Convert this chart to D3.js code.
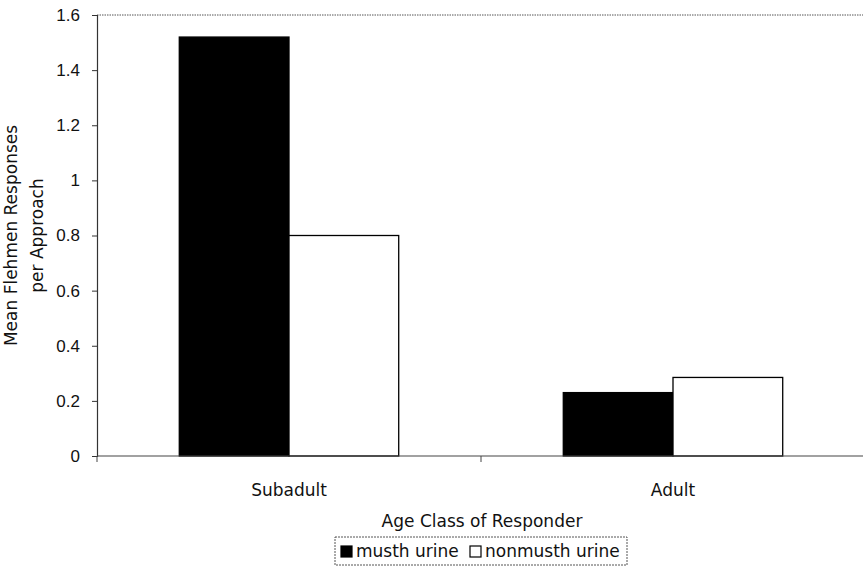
<!DOCTYPE html>
<html>
<head>
<meta charset="utf-8">
<script src="https://cdn.jsdelivr.net/npm/d3@7"></script>
<style>
  body { margin: 0; background: #fff; }
  svg { display: block; font-family: "DejaVu Sans", Verdana, sans-serif; }
</style>
</head>
<body>
<div id="chart"></div>
<script>
// Flehmen responses by age class, musth vs nonmusth urine
const categories = ['Subadult', 'Adult'];
const seriesNames = ['musth urine', 'nonmusth urine'];
const musth = [1.52, 0.23];
const nonmusth = [0.80, 0.285];
const yTicks = [0, 0.2, 0.4, 0.6, 0.8, 1, 1.2, 1.4, 1.6];

const width = 863, height = 567;
const margin = { top: 15, right: -2, bottom: 111, left: 97 };
const W = width - margin.left - margin.right;
const H = height - margin.top - margin.bottom;
const fs = '17px';

const svg = d3.select('#chart').append('svg')
  .attr('width', width).attr('height', height);

const g = svg.append('g').attr('transform', `translate(${margin.left},${margin.top})`);

const x = d3.scaleBand().domain(categories).range([0, W]);
const xs = d3.scaleBand().domain(seriesNames).range([0, x.bandwidth()]).paddingInner(0).paddingOuter(0.75);
const y = d3.scaleLinear().domain([0, 1.6]).range([H, 0]);

const rows = categories.map((c, i) => ({ cat: c, vals: [musth[i], nonmusth[i]] }));
const fills = ['#000', '#fff'];

// plot frame (dotted top / right)
g.append('line').attr('x1', 0).attr('x2', W).attr('y1', 0).attr('y2', 0)
  .attr('stroke', '#555').attr('stroke-width', 1).attr('stroke-dasharray', '1.5,1');
g.append('line').attr('x1', W).attr('x2', W).attr('y1', 0).attr('y2', H)
  .attr('stroke', '#555').attr('stroke-dasharray', '1.5,1');

// bars
g.selectAll('.grp').data(rows).join('g')
  .attr('class', 'grp')
  .attr('transform', d => `translate(${x(d.cat)},0)`)
  .selectAll('rect').data(d => d.vals.map((v, i) => ({ key: seriesNames[i], v, i })))
  .join('rect')
  .attr('x', d => xs(d.key)).attr('y', d => y(d.v))
  .attr('width', xs.bandwidth()).attr('height', d => H - y(d.v))
  .attr('fill', d => fills[d.i]).attr('stroke', '#000').attr('stroke-width', 1.3);

// y axis
const yAx = g.append('g')
  .call(d3.axisLeft(y).tickValues(yTicks).tickSize(5).tickPadding(12).tickFormat(d => d3.format('')(d)));
yAx.select('.domain').attr('stroke', '#333').attr('stroke-width', 1.2);
yAx.selectAll('line').attr('stroke', '#333');
yAx.selectAll('text').attr('font-size', fs).attr('fill', '#111');

// x axis
const xAx = g.append('g').attr('transform', `translate(0,${H})`);
xAx.append('line').attr('x1', 0).attr('x2', W).attr('stroke', '#444').attr('stroke-width', 1.2);
const bounds = [0, x.step(), W];
xAx.selectAll('.tk').data(bounds).join('line').attr('class', 'tk')
  .attr('x1', d => d).attr('x2', d => d).attr('y1', 0).attr('y2', 6)
  .attr('stroke', '#444');
xAx.selectAll('.lbl').data(categories).join('text').attr('class', 'lbl')
  .attr('x', d => x(d) + x.bandwidth() / 2).attr('y', 40)
  .attr('text-anchor', 'middle').attr('font-size', fs).attr('fill', '#111')
  .text(d => d);

// axis titles
g.append('text').attr('x', W / 2 + 1).attr('y', H + 71)
  .attr('text-anchor', 'middle').attr('font-size', fs).attr('fill', '#111')
  .text('Age Class of Responder');

const yt = svg.append('text').attr('transform', `translate(0,${margin.top + H / 2}) rotate(-90)`)
  .attr('text-anchor', 'middle').attr('font-size', fs).attr('fill', '#111');
yt.append('tspan').attr('x', 0).attr('y', 17).text('Mean Flehmen Responses');
yt.append('tspan').attr('x', 0).attr('y', 43).text('per Approach');

// legend
const lg = svg.append('g').attr('transform', 'translate(335,537)');
lg.append('rect').attr('x', 0).attr('y', 0).attr('width', 292).attr('height', 28)
  .attr('fill', '#fff').attr('stroke', '#555').attr('stroke-dasharray', '2,1');
const items = [{ name: seriesNames[0], fill: fills[0], x: 6 }, { name: seriesNames[1], fill: fills[1], x: 135 }];
lg.selectAll('.sw').data(items).join('rect').attr('class', 'sw')
  .attr('x', d => d.x).attr('y', 9).attr('width', 11).attr('height', 11)
  .attr('fill', d => d.fill).attr('stroke', '#000').attr('stroke-width', 1.2);
lg.selectAll('.lt').data(items).join('text').attr('class', 'lt')
  .attr('x', d => d.x + 15).attr('y', 20)
  .attr('font-size', fs).attr('fill', '#111')
  .text(d => d.name);
</script>
</body>
</html>
